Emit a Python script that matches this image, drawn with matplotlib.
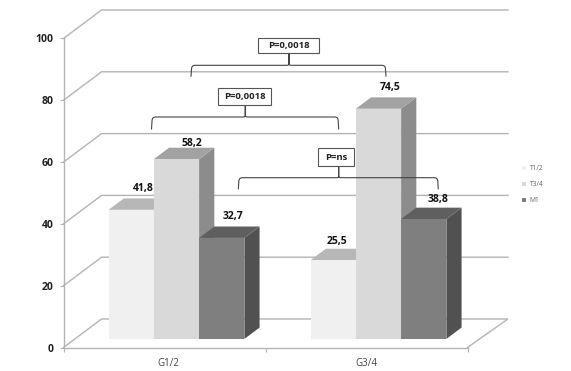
import matplotlib
matplotlib.use('Agg')
import matplotlib.pyplot as plt
from matplotlib.patches import Polygon, Rectangle, Patch
from matplotlib.path import Path
from matplotlib.patches import PathPatch
from matplotlib.transforms import Affine2D

groups = ['G1/2', 'G3/4']
series = ['T1/2', 'T3/4', 'M1']
t12 = [41.8, 25.5]
t34 = [58.2, 74.5]
m1 = [32.7, 38.8]
yticks = [0, 20, 40, 60, 80, 100]
value_labels = ['41,8', '25,5', '58,2', '74,5', '32,7', '38,8']

front_cols = ['#f0f0f0', '#d9d9d9', '#7f7f7f']
top_cols = ['#b7b7b7', '#a2a2a2', '#5f5f5f']
side_cols = ['#b0b0b0', '#8c8c8c', '#515151']
grid_col = '#b4b4b4'

# the labels are not placed evenly in the original, pixel nudges per label
label_nudge = [(-3, 9.5), (-11.7, 7.2), (0, 4.7), (-3.6, 10), (-3.6, 10), (-1.3, 7.7)]

plt.rcParams['font.family'] = ['Open Sans', 'DejaVu Sans']

W, H = 571, 371
X0, Y0 = 63.5, 347.5     # pixel of the chart origin
PX_X, PX_Y = 202.0, 3.09 # pixels per category, pixels per value
DX = 38.0 / PX_X         # depth of the 3d box, in data units
DY = 28.5 / PX_Y

fig = plt.figure(figsize=(W / 100, H / 100), dpi=100)
ax = fig.add_axes([0, 0, 1, 1])
ax.set_xlim(-X0 / PX_X, (W - X0) / PX_X)
ax.set_ylim((Y0 - H) / PX_Y, Y0 / PX_Y)
ax.patch.set_visible(False)


def proj(x, y, d):
    # oblique projection, d=0 is front of box and d=1 the back wall
    return (x + d * DX, y + d * DY)


# walls
for v in yticks:
    pts = [proj(0, v, 0), proj(0, v, 1), proj(2.012, v, 1)]
    if v == 0:
        pts.append(proj(2, v, 0))
    ax.plot(*zip(*pts), color=grid_col, lw=1.0, zorder=1, solid_joinstyle='miter')

# axes
for s in ['top', 'right']:
    ax.spines[s].set_visible(False)
ax.spines['left'].set_position(('data', 0))
ax.spines['left'].set_bounds(0, 100)
ax.spines['bottom'].set_position(('data', 0))
ax.spines['bottom'].set_bounds(0, 2)
ax.spines['left'].set_color(grid_col)
ax.spines['bottom'].set_color(grid_col)
ax.spines['left'].set_linewidth(1.0)
ax.spines['bottom'].set_linewidth(1.0)
ax.set_yticks(yticks)
ax.set_yticklabels([str(v) for v in yticks], fontsize=7.5, fontweight='bold', color='#222222')
ax.tick_params(axis='y', length=3, color=grid_col, pad=4)
ax.set_xticks([0, 1, 2])
ax.set_xticklabels([])
ax.tick_params(axis='x', which='major', length=3, color=grid_col)
ax.set_xticks([0.517, 1.5], minor=True)
ax.set_xticklabels(groups, minor=True, fontsize=7, color='#444444')
ax.tick_params(axis='x', which='minor', length=0, pad=7.5)

# bars
BAR_W = 0.224
D1, D2 = 0.3, 0.7
START = 0.167
all_vals = [t12, t34, m1]
k = 0
for i, vals in enumerate(all_vals):
    for g, v in enumerate(vals):
        x1 = g + START + i * BAR_W
        x2 = x1 + BAR_W
        z = 3 + g * 3 + i * 0.1
        front = [proj(x1, 0, D1), proj(x2, 0, D1), proj(x2, v, D1), proj(x1, v, D1)]
        top = [proj(x1, v, D1), proj(x2, v, D1), proj(x2, v, D2), proj(x1, v, D2)]
        side = [proj(x2, 0, D1), proj(x2, 0, D2), proj(x2, v, D2), proj(x2, v, D1)]
        ax.add_patch(Polygon(side, fc=side_cols[i], ec='none', zorder=z))
        ax.add_patch(Polygon(top, fc=top_cols[i], ec='none', zorder=z))
        ax.add_patch(Polygon(front, fc=front_cols[i], ec='none', zorder=z + 0.05))
        lx, ly = proj((x1 + x2) / 2, v, D2)
        ax.annotate(value_labels[k], (lx, ly), xytext=label_nudge[k], textcoords='offset pixels',
                    ha='center', va='center', fontsize=7.5, fontweight='bold',
                    color='#111111', zorder=20)
        k += 1

# brackets and p value boxes, placed in image pixels
pix = Affine2D().scale(1 / W, -1 / H).translate(0, 1) + fig.transFigure


def brace(xl, xc, xr, ybot, ytop, ybox):
    r = 4
    verts = [(xl, ybot), (xl + 0.5, ytop + r), (xl + 0.5, ytop), (xl + r, ytop),
             (xc - 2, ytop), (xc - 0.5, ytop), (xc, ytop - 1), (xc, ybox),
             (xc, ytop - 1), (xc + 0.5, ytop), (xc + 2, ytop),
             (xr - r, ytop), (xr - 0.5, ytop), (xr - 0.5, ytop + r), (xr, ybot)]
    codes = [Path.MOVETO, Path.LINETO, Path.CURVE3, Path.CURVE3,
             Path.LINETO, Path.CURVE3, Path.CURVE3, Path.LINETO,
             Path.LINETO, Path.CURVE3, Path.CURVE3,
             Path.LINETO, Path.CURVE3, Path.CURVE3, Path.LINETO]
    ax.add_patch(PathPatch(Path(verts, codes), fc='none', ec='#444444', lw=0.8,
                           transform=pix, zorder=30, clip_on=False))


def pbox(x1, y1, x2, y2, s):
    ax.add_patch(Rectangle((x1, y1), x2 - x1, y2 - y1, fc='white', ec='#555555', lw=0.8,
                           transform=pix, zorder=31))
    ax.text((x1 + x2) / 2, (y1 + y2) / 2, s, transform=pix, ha='center', va='center',
            fontsize=6.8, fontweight='bold', color='#222222', zorder=32)


brace(191, 289, 386, 76.7, 65.3, 53.5)
pbox(258.3, 37.7, 319.3, 53.5, 'P=0,0018')
brace(151.5, 245.3, 338.7, 129.5, 117, 105.5)
pbox(218.3, 87.7, 271, 105.5, 'P=0,0018')
brace(238.3, 338.7, 438.3, 189.3, 177.7, 166)
pbox(317.7, 148.3, 354, 166, 'P=ns')

# legend
handles = [Patch(fc=c, ec='none') for c in front_cols]
ax.legend(handles, series, loc='center left', bbox_to_anchor=(521.5 / W, 1 - 185 / H),
          bbox_transform=fig.transFigure, frameon=False, fontsize=4.8,
          labelcolor='#666666', handlelength=0.6, handleheight=0.6, handletextpad=0.6,
          labelspacing=1.35, borderpad=0, borderaxespad=0)

fig.savefig('out.png', dpi=100)
